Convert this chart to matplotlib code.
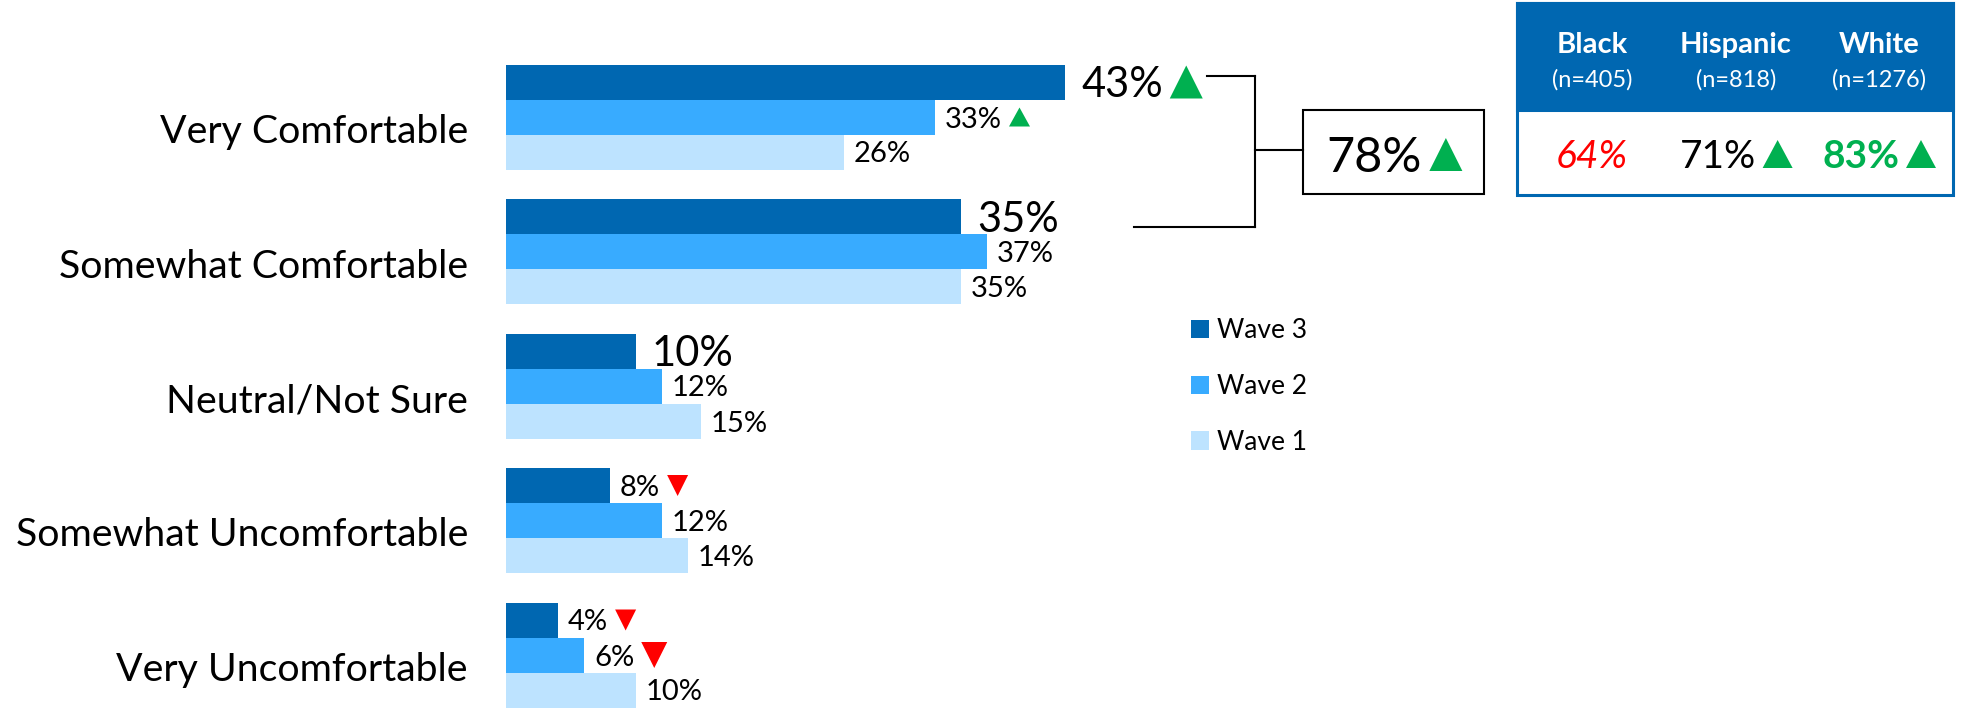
import matplotlib
matplotlib.use("Agg")
import numpy as np
import matplotlib.pyplot as plt
from matplotlib.patches import Polygon, Rectangle
from matplotlib.lines import Line2D

# ---------------- data ----------------
categories = ["Very Comfortable", "Somewhat Comfortable", "Neutral/Not Sure",
              "Somewhat Uncomfortable", "Very Uncomfortable"]
series_names = ["Wave 3", "Wave 2", "Wave 1"]
wave3 = [43, 35, 10, 8, 4]
wave2 = [33, 37, 12, 12, 6]
wave1 = [26, 35, 15, 14, 10]
wave3_sig = ["up", None, None, "down", "down"]
wave2_sig = ["up", None, None, None, "down"]
wave1_sig = [None, None, None, None, None]
wave3_big = [True, True, True, False, False]
comfortable_total = 78
comfortable_sig = "up"
table_groups = ["Black", "Hispanic", "White"]
table_n = ["(n=405)", "(n=818)", "(n=1276)"]
table_values = [64, 71, 83]
table_sig = [None, "up", "up"]

# ---------------- style ----------------
FONT = "Lato"
plt.rcParams["font.family"] = [FONT, "DejaVu Sans"]
C3, C2, C1 = "#0067B1", "#38ABFF", "#BDE3FF"
GREEN, RED = "#00B050", "#FF0000"

W, H = 1962, 709
fig = plt.figure(figsize=(W / 100, H / 100), dpi=100)
ax = fig.add_axes([0, 0, 1, 1])
ax.axis("off")

X0, PXV = 506.0, 13.0          # pixel of value 0, pixels per percent
Y0, PXG = 117.0, 134.5         # pixel of first group centre, pixels per group
ax.set_xlim(-X0 / PXV, (W - X0) / PXV)
ax.set_ylim((H - Y0) / PXG, -Y0 / PXG)

def fx(px):
    return px / W

def fy(py):
    return 1 - py / H

BH = 35 / PXG
offsets = [-BH, 0.0, BH]
series = [wave3, wave2, wave1]
sigs = [wave3_sig, wave2_sig, wave1_sig]
colors = [C3, C2, C1]
ypos = np.arange(len(categories))

containers = []
for vals, off, col, name in zip(series, offsets, colors, series_names):
    c = ax.barh(ypos + off, vals, height=BH, color=col, edgecolor="none", label=name)
    containers.append(c)

# category labels
for i, cat in enumerate(categories):
    ax.text((468 - X0) / PXV, i + 26 / PXG, cat, ha="right", va="baseline",
            fontsize=28.3, color="black")

fig.canvas.draw()
renderer = fig.canvas.get_renderer()

def triangle(xl, yc, w, h, direction, color):
    # display-pixel coordinates (origin bottom-left)
    if direction == "up":
        pts = [(xl, yc - h / 2), (xl + w, yc - h / 2), (xl + w / 2, yc + h / 2)]
    else:
        pts = [(xl, yc + h / 2), (xl + w, yc + h / 2), (xl + w / 2, yc - h / 2)]
    pts = [(x / W, y / H) for x, y in pts]
    fig.add_artist(Polygon(pts, closed=True, facecolor=color, edgecolor="none",
                           transform=fig.transFigure))

# value labels
for s, (vals, off, sg) in enumerate(zip(series, offsets, sigs)):
    for i, v in enumerate(vals):
        big = (s == 0 and wave3_big[i])
        fs = 30 if big else 21
        gap = 16 if big else 10
        dig = 30 if big else 21
        yc = i + off
        t = ax.text(v + gap / PXV, yc + (dig / 2) / PXG, f"{v}%", ha="left",
                    va="baseline", fontsize=fs, color="black")
        if sg[i] is not None:
            bb = t.get_window_extent(renderer)
            ycd = ax.transData.transform((0, yc))[1]
            if big:
                tw, th = 33, 33
            elif sg[i] == "down" and s == 1:
                tw, th = 26, 26
            else:
                tw, th = 21, 19 if sg[i] == "up" else 21
            triangle(bb.x1 + 7, ycd, tw, th, sg[i],
                     GREEN if sg[i] == "up" else RED)

# legend
ax.legend(handles=containers, labels=series_names, loc="upper left",
          bbox_to_anchor=(fx(1191), fy(318)), frameon=False, fontsize=19,
          handlelength=0.68, handleheight=0.68, handletextpad=0.3,
          labelspacing=1.17, borderpad=0, borderaxespad=0)

# bracket + total box
lw = 1.5
segs = [((1207, 76), (1255, 76)), ((1255, 76), (1255, 227)),
        ((1134, 227), (1255, 227)), ((1255, 150), (1303, 150))]
for (xa, ya), (xb, yb) in segs:
    fig.add_artist(Line2D([fx(xa), fx(xb)], [fy(ya), fy(yb)], color="black",
                          lw=lw, transform=fig.transFigure, solid_capstyle="projecting"))
fig.add_artist(Rectangle((fx(1303), fy(194)), fx(1484) - fx(1303), fy(110) - fy(194),
                         facecolor="white", edgecolor="black", lw=lw,
                         transform=fig.transFigure))
t78 = fig.text(fx(1326), fy(172), f"{comfortable_total}%", ha="left", va="baseline",
               fontsize=35, color="black")
bb = t78.get_window_extent(renderer)
triangle(bb.x1 + 8, H - 154.5, 33, 33, comfortable_sig, GREEN)

# table
fig.add_artist(Rectangle((fx(1517), fy(195)), fx(1953) - fx(1517), fy(3) - fy(195),
                         facecolor="white", edgecolor=C3, lw=2.2,
                         transform=fig.transFigure))
fig.add_artist(Rectangle((fx(1517), fy(110)), fx(1953) - fx(1517), fy(3) - fy(110),
                         facecolor=C3, edgecolor=C3, lw=2.2,
                         transform=fig.transFigure))
col_x = [1592, 1736, 1879]
for j, (g, n, v, sg) in enumerate(zip(table_groups, table_n, table_values, table_sig)):
    fig.text(fx(col_x[j]), fy(53), g, ha="center", va="baseline", fontsize=21,
             fontweight="bold", color="white")
    fig.text(fx(col_x[j]), fy(87), n, ha="center", va="baseline", fontsize=17,
             color="white")
    if j == 0:
        color, style, weight = RED, "italic", "normal"
    elif j == 1:
        color, style, weight = "black", "normal", "normal"
    else:
        color, style, weight = GREEN, "normal", "bold"
    tv = fig.text(fx(col_x[j]), fy(168), f"{v}%", ha="center", va="baseline",
                  fontsize=28, color=color, style=style, fontweight=weight)
    if sg is not None:
        shift = (7 + 30) / 2
        tv.set_x(fx(col_x[j] - shift))
        b = tv.get_window_extent(renderer)
        triangle(b.x1 + 7, H - 154, 30, 28, sg, GREEN)

fig.savefig("out.png", dpi=100)
